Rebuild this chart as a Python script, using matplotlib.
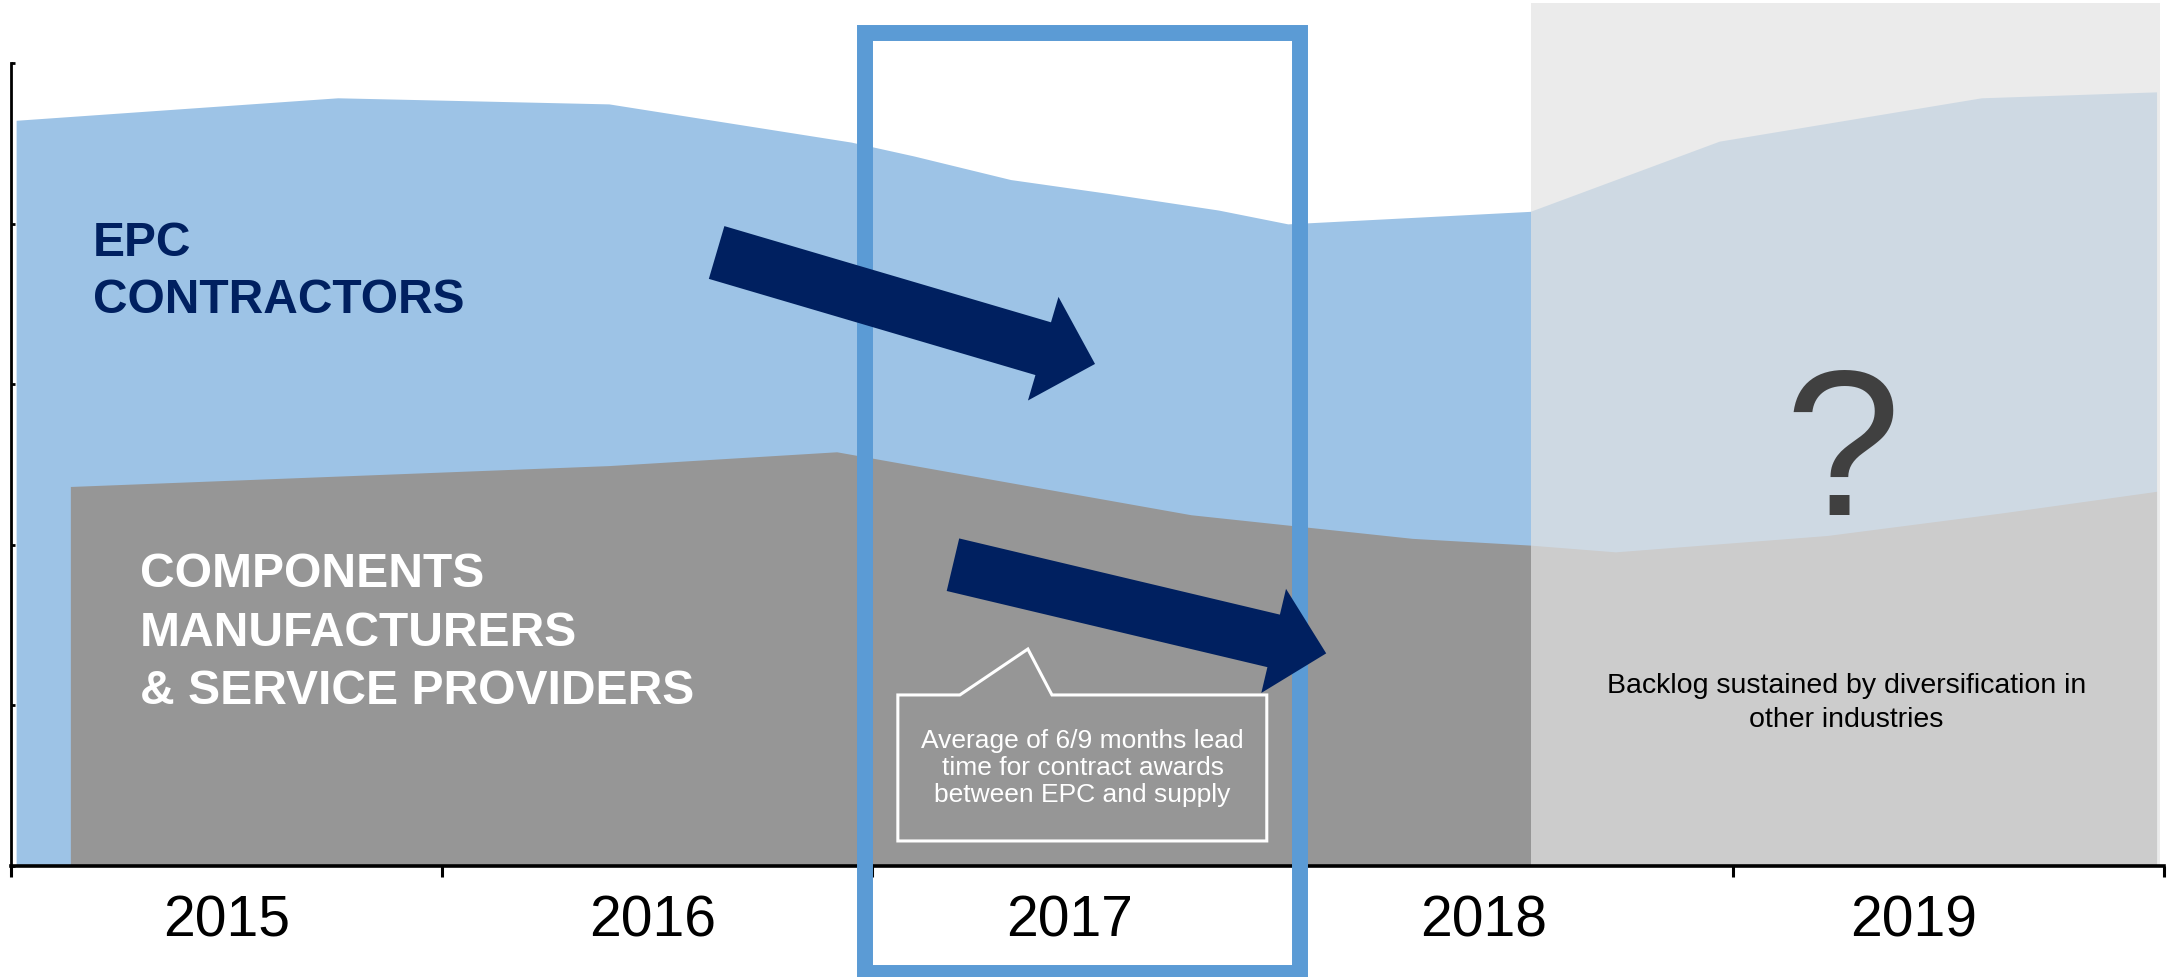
import numpy as np
import matplotlib
matplotlib.use('Agg')
import matplotlib.pyplot as plt
from matplotlib.patches import Polygon, Rectangle
from matplotlib import transforms

plt.rcParams['font.family'] = ['Liberation Sans', 'DejaVu Sans']

# backlog profile, x in fractional years
years = ['2015', '2016', '2017', '2018', '2019']
year_label_x = [2015.50, 2016.49, 2017.46, 2018.42, 2019.42]

epc_x = [2015.013, 2015.76, 2016.39, 2016.953, 2017.098, 2017.323, 2017.549,
         2017.806, 2017.967, 2018.53, 2018.969, 2019.578, 2019.985]
epc_top = [4.64, 4.78, 4.742, 4.504, 4.418, 4.271, 4.185,
           4.081, 3.995, 4.073, 4.51, 4.78, 4.817]

comp_x = [2015.139, 2016.39, 2016.919, 2017.742, 2018.256, 2018.53, 2018.728,
          2019.22, 2019.627, 2019.985]
comp_top = [2.36, 2.49, 2.576, 2.184, 2.037, 1.995, 1.953,
            2.055, 2.196, 2.33]

forecast_start = 2018.531
forecast_end = 2019.991

BLUE = '#9DC3E6'
GREY = '#969696'
NAVY = '#002060'
FRAME = '#5B9BD5'


def stacked_text(ax, fig, x, y, lines, step_px, **kw):
    # one text per line so the spacing is set in pixels
    for i, line in enumerate(lines):
        tr = transforms.offset_copy(ax.transData, fig=fig, x=0, y=-i * step_px, units='dots')
        ax.text(x, y, line, transform=tr, va='baseline', **kw)


def block_arrow(ax, tail, tip, shaft_px, head_w_px, head_len_px, color, z):
    p0 = ax.transData.transform(tail)
    p1 = ax.transData.transform(tip)
    d = p1 - p0
    u = d / np.hypot(*d)
    n = np.array([-u[1], u[0]])
    base = p1 - u * head_len_px
    pts = [p0 + n * shaft_px / 2, base + n * shaft_px / 2, base + n * head_w_px / 2, p1,
           base - n * head_w_px / 2, base - n * shaft_px / 2, p0 - n * shaft_px / 2]
    pts = ax.transData.inverted().transform(np.array(pts))
    ax.add_patch(Polygon(pts, closed=True, facecolor=color, edgecolor='none',
                         zorder=z, clip_on=False))


fig = plt.figure(figsize=(21.72, 9.77), dpi=100)
ax = fig.add_axes([0, 0, 1, 1])
ax.set_xlim(2015 - 0.0256, 2020.0197)
ax.set_ylim(-0.691, 5.392)
ax.patch.set_visible(False)

ax.fill_between(epc_x, 0, epc_top, facecolor=BLUE, edgecolor='none', zorder=1)
ax.fill_between(comp_x, 0, comp_top, facecolor=GREY, edgecolor='none', zorder=2)

# forecast years washed out
ax.add_patch(Rectangle((forecast_start, 0), forecast_end - forecast_start, 5.375,
                       facecolor='#E3E3E3', alpha=0.705, edgecolor='none', zorder=3))

for s in ['top', 'right']:
    ax.spines[s].set_visible(False)
ax.spines['left'].set_bounds(0, 5)
ax.spines['left'].set_position(('data', 2015))
ax.spines['left'].set_linewidth(2.0)
ax.spines['bottom'].set_bounds(2015, 2020)
ax.spines['bottom'].set_position(('data', 0))
ax.spines['bottom'].set_linewidth(2.6)
for s in ax.spines.values():
    s.set_zorder(4)

ax.set_xticks(np.arange(2015, 2021))
ax.set_xticklabels([])
ax.set_yticks(np.arange(0, 6))
ax.set_yticklabels([])
ax.tick_params(axis='x', direction='out', length=8, width=2.2, color='black')
ax.tick_params(axis='y', direction='in', length=3, width=2.0, color='black')

for xl, lab in zip(year_label_x, years):
    ax.text(xl, -0.436, lab, ha='center', va='baseline', fontsize=41, color='black')

# 2017 highlight frame
ax.add_patch(Rectangle((2016.984, -0.666), 2017.995 - 2016.984, 5.187 + 0.666,
                       fill=False, edgecolor=FRAME, linewidth=11.5, joinstyle='miter',
                       zorder=5, clip_on=False))

block_arrow(ax, (2016.639, 3.82), (2017.518, 3.126), 55, 108, 54, NAVY, 6)
block_arrow(ax, (2017.188, 1.876), (2018.055, 1.324), 54, 107, 54, NAVY, 6)

# callout box
callout = [(2017.06, 1.065), (2017.204, 1.065), (2017.362, 1.351), (2017.418, 1.065),
           (2017.917, 1.065), (2017.917, 0.156), (2017.06, 0.156)]
ax.add_patch(Polygon(callout, closed=True, fill=False, edgecolor='white',
                     linewidth=2.2, joinstyle='miter', zorder=7))
stacked_text(ax, fig, 2017.489, 0.733,
             ['Average of 6/9 months lead', 'time for contract awards',
              'between EPC and supply'],
             27, ha='center', fontsize=19, color='white', zorder=8)

stacked_text(ax, fig, 2015.19, 3.798, ['EPC', 'CONTRACTORS'], 57,
             ha='left', fontsize=34.5, fontweight='bold', color=NAVY, zorder=8)
stacked_text(ax, fig, 2015.30, 1.737,
             ['COMPONENTS', 'MANUFACTURERS', '& SERVICE PROVIDERS'], 58.5,
             ha='left', fontsize=34.6, fontweight='bold', color='white', zorder=8)

ax.text(2019.253, 2.186, '?', ha='center', va='baseline', fontsize=150,
        color='#404040', zorder=8)
stacked_text(ax, fig, 2019.263, 1.079,
             ['Backlog sustained by diversification in', 'other industries'], 34,
             ha='center', fontsize=20.5, color='black', zorder=8)

fig.savefig('out.png', dpi=100)
